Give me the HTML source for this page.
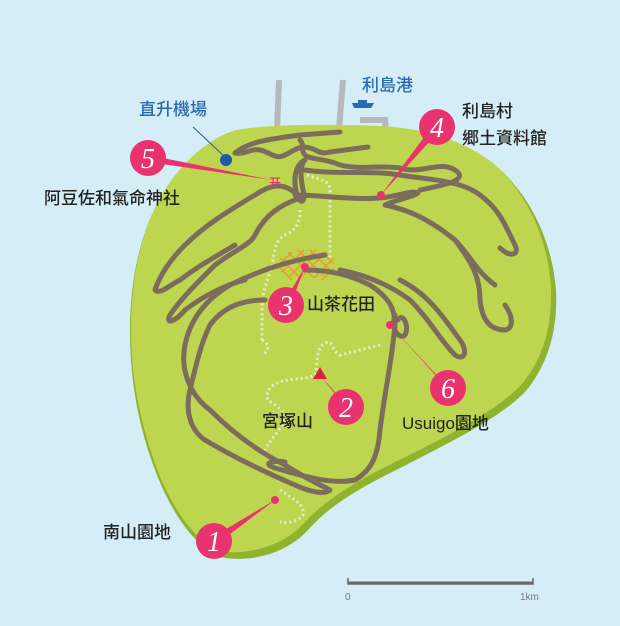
<!DOCTYPE html>
<html><head><meta charset="utf-8"><style>
html,body{margin:0;padding:0;background:#d5edf6;}
svg{display:block}
text{font-family:"Liberation Sans","Noto Sans CJK TC",sans-serif;font-weight:500}
.n{font-family:"Liberation Serif",serif;font-style:italic;font-weight:normal;fill:#fff;font-size:28px}
</style></head><body>
<svg width="620" height="626" viewBox="0 0 620 626" xmlns="http://www.w3.org/2000/svg">
<rect width="620" height="626" fill="#d5edf6"/>
<g stroke="#b5b9bd" stroke-width="6" fill="none">
<path d="M279 80 L277 130"/>
<path d="M343 80 L339 130"/>
<path d="M360 120 L385 120 L386 132"/>
</g>
<path d="M352 103 h22 l-3 5 h-17z M358 100 h9 v3 h-9z" fill="#2a6bb0"/>
<path d="M236 132 C270 126 330 126 380 128 C420 130 460 140 495 165 C530 195 552 240 556 290 C558 330 548 365 525 392 C500 418 445 445 400 468 C360 488 330 505 308 530 C288 552 255 562 225 558 C195 550 170 510 155 470 C138 425 130 380 130 330 C130 280 140 230 165 190 C185 160 210 140 236 132Z" fill="#8fb32e"/>
<path d="M236 130 C270 124 330 124 380 126 C420 128 460 138 493 163 C527 193 548 238 551 288 C552 328 543 360 520 386 C495 412 440 440 395 462 C355 482 325 500 303 524 C283 546 250 554 224 552 C195 544 170 505 156 466 C140 422 131 378 131 328 C131 278 141 228 166 188 C186 158 210 138 236 130Z" fill="#bed64f"/>
<g stroke="#e8ecd6" stroke-width="3" stroke-dasharray="2 3" fill="none">
<path d="M307 175 C320 180 330 180 330 190 L330 260"/>
<path d="M300 210 C300 225 295 230 285 235 C275 240 275 250 272 265 C268 280 262 290 262 310 L262 340"/>
<path d="M262 340 C270 345 270 350 262 355"/>
<path d="M380 345 L340 355 C330 350 335 340 325 343 C315 348 318 365 315 375 C305 380 290 378 280 382 C270 385 265 392 268 400 C275 405 285 410 285 420 C280 430 270 440 265 450"/>
<path d="M280 490 C295 500 305 505 303 515 C300 520 290 524 280 522"/>
</g>
<g stroke="#f0922a" stroke-width="1.5" fill="none" opacity="0.9">
<path d="M280 258 l20 20 M288 252 l26 26 M298 250 l26 26 M310 250 l22 22 M322 252 l12 12 M280 268 l12 12"/>
<path d="M334 258 l-20 20 M326 252 l-26 26 M316 250 l-26 26 M304 250 l-22 22 M292 252 l-12 12 M334 268 l-12 12"/>
</g>
<g stroke="#7a6d5c" stroke-width="5" fill="none" stroke-linecap="round" stroke-linejoin="round">
<path d="M235 153 C250 140 280 138 300 135 L340 132"/>
<path d="M235 153 C245 155 250 148 260 150 C270 152 275 160 285 155 C295 150 300 145 310 148 C318 150 320 155 330 152 L368 147"/>
<path d="M300 140 C305 145 300 150 305 155 C310 160 325 158 340 165 C360 170 380 165 400 168 C420 175 440 160 455 170 C470 180 445 185 420 190"/>
<path d="M305 160 C295 165 292 180 298 198 C302 205 306 200 303 190 C300 175 300 165 305 160"/>
<path d="M295 195 C320 195 350 200 380 198 C400 196 410 190 418 193 C410 198 395 200 385 205 C410 210 430 220 455 240 C470 255 475 270 495 285"/>
<path d="M305 170 C340 175 370 170 400 175 C430 180 460 180 480 195 C500 210 505 225 515 245 C520 255 510 258 500 248"/>
<path d="M300 198 C285 180 270 185 255 195 C230 210 205 225 185 245 C170 260 160 275 155 290 C160 295 170 285 180 280 C200 265 210 260 235 245"/>
<path d="M300 198 C280 205 265 215 255 235 C250 245 235 250 215 265 C195 285 180 300 170 315 C165 325 175 322 185 310 C205 295 225 285 245 280"/>
<path d="M325 255 C290 260 260 270 230 285 C205 300 190 320 185 345 C180 370 190 395 210 410 C230 430 255 450 285 465 C300 475 320 485 330 490 C325 495 310 492 295 485 C260 470 230 455 205 440 C190 430 185 410 190 390 C195 370 200 345 210 325 C225 305 245 300 265 300"/>
<path d="M305 270 C330 270 350 275 370 285 C385 295 395 305 395 325 C392 360 385 390 380 430 C378 455 372 470 355 480 C330 485 300 475 275 468 C260 463 275 460 285 462"/>
<path d="M340 270 C365 275 390 285 410 300 C430 320 440 340 455 355 C465 362 468 350 460 340 C445 320 430 295 400 280"/>
<path d="M395 315 C390 330 400 340 405 335 C410 325 402 312 398 320"/>
<path d="M455 240 C470 260 480 275 480 300 C482 320 490 330 505 330 C515 328 512 315 505 305"/>
</g>
<text x="269" y="187" font-size="12" fill="#e8336f">开</text>
<line x1="193" y1="127" x2="226" y2="158" stroke="#2a6bb0" stroke-width="1.2"/>
<circle cx="226" cy="160" r="6" fill="#1d5aa8"/>
<path d="M320 367 l7 12 h-14z" fill="#d62340"/>
<g fill="#e8336f">
<path d="M148 155 L272 180 L148 162z"/>
<path d="M434 124 L381 195 L440 130z"/>
<path d="M284 302 L305 267 L290 306z"/>
<path d="M343 404 L320 375 L349 408z"/>
<path d="M446 385 L390 325 L450 391z"/>
<path d="M211 538 L275 500 L217 544z"/>
<circle cx="381" cy="195" r="4"/>
<circle cx="305" cy="267" r="4"/>
<circle cx="390" cy="325" r="4"/>
<circle cx="275" cy="500" r="4"/>
<circle cx="148" cy="158" r="18"/>
<circle cx="437" cy="127" r="18"/>
<circle cx="286" cy="305" r="18"/>
<circle cx="346" cy="407" r="18"/>
<circle cx="448" cy="388" r="18"/>
<circle cx="214" cy="541" r="18"/>
</g>
<text class="n" x="148" y="168" text-anchor="middle">5</text>
<text class="n" x="437" y="137" text-anchor="middle">4</text>
<text class="n" x="286" y="315" text-anchor="middle">3</text>
<text class="n" x="346" y="417" text-anchor="middle">2</text>
<text class="n" x="448" y="398" text-anchor="middle">6</text>
<text class="n" x="214" y="551" text-anchor="middle">1</text>
<g font-size="17" fill="#2a6bb0">
<text x="139" y="115">直升機場</text>
<text x="362" y="91">利島港</text>
</g>
<g font-size="17" fill="#222">
<text x="462" y="117">利島村</text>
<text x="462" y="144">郷土資料館</text>
<text x="44" y="204">阿豆佐和氣命神社</text>
<text x="307" y="310">山茶花田</text>
<text x="262" y="427">宮塚山</text>
<text x="402" y="429">Usuigo園地</text>
<text x="103" y="538">南山園地</text>
</g>
<g stroke="#666" fill="none">
<path d="M348 578 v6 h185 v-6" stroke-width="1.5"/>
<line x1="348" y1="583" x2="533" y2="583" stroke-width="3"/>
</g>
<text x="345" y="600" font-size="10" fill="#777" font-weight="normal">0</text>
<text x="520" y="600" font-size="10" fill="#777" font-weight="normal">1km</text>
</svg>
</body></html>
